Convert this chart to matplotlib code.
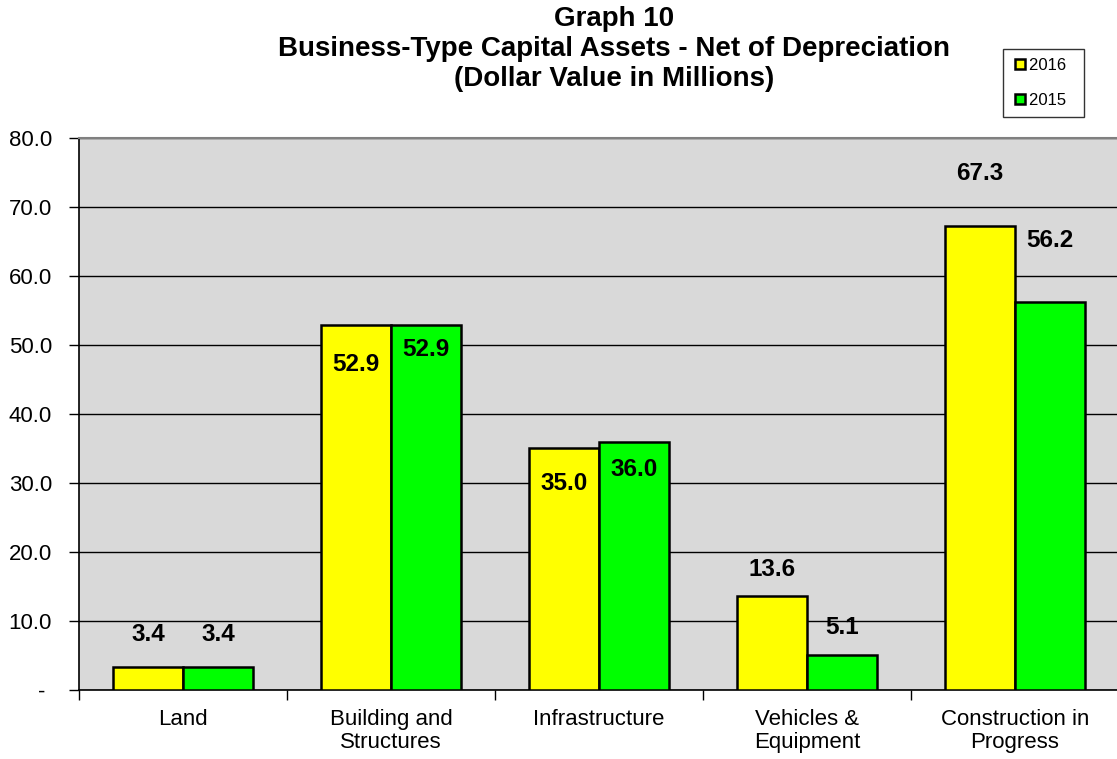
import matplotlib
matplotlib.use("Agg")
import matplotlib.pyplot as plt
import numpy as np
from matplotlib.lines import Line2D

plt.rcParams['font.family'] = ['Liberation Sans', 'DejaVu Sans']

categories = ["Land", "Building and\nStructures", "Infrastructure",
              "Vehicles &\nEquipment", "Construction in\nProgress"]
values_2016 = [3.4, 52.9, 35.0, 13.6, 67.3]
values_2015 = [3.4, 52.9, 36.0, 5.1, 56.2]
series_names = ["2016", "2015"]
y_ticks = [0, 10, 20, 30, 40, 50, 60, 70, 80]
y_tick_labels = ["- ", "10.0", "20.0", "30.0", "40.0", "50.0", "60.0", "70.0", "80.0"]

# vertical placement of each value label relative to its bar top (data units)
label_shift_2016 = [4.6, -5.7, -5.1, 3.9, 7.6]
label_shift_2015 = [4.6, -3.5, -4.1, 4.0, 8.9]

colors = ["#FFFF00", "#00FF00"]

fig = plt.figure(figsize=(11.17, 7.59), dpi=100)
ax = fig.add_axes([0.0707, 0.0909, 0.9311, 0.7273])
ax.set_facecolor("#D9D9D9")

x = np.arange(len(categories))
w = 0.336
ax.bar(x - w / 2, values_2016, w, color=colors[0], edgecolor="black", linewidth=1.8, zorder=3)
ax.bar(x + w / 2, values_2015, w, color=colors[1], edgecolor="black", linewidth=1.8, zorder=3)

for xi, v, s in zip(x - w / 2, values_2016, label_shift_2016):
    ax.text(xi, v + s, f"{v:.1f}", ha="center", va="center", fontsize=17.5,
            fontweight="bold", zorder=4)
for xi, v, s in zip(x + w / 2, values_2015, label_shift_2015):
    ax.text(xi, v + s, f"{v:.1f}", ha="center", va="center", fontsize=17.5,
            fontweight="bold", zorder=4)

ax.set_xlim(-0.5, len(categories) - 0.5)
ax.set_ylim(0, 80)
ax.set_yticks(y_ticks)
ax.set_yticklabels(y_tick_labels, fontsize=16)
ax.yaxis.grid(True, color="black", linewidth=1.0, zorder=1)
ax.set_axisbelow(True)

ax.set_xticks(x)
ax.set_xticklabels(categories, fontsize=16, linespacing=1.1)
ax.tick_params(axis="x", length=0, pad=14)
ax.set_xticks(np.arange(-0.5, len(categories), 1.0), minor=True)
ax.tick_params(axis="x", which="minor", length=7, width=1.0, direction="out")
ax.tick_params(axis="y", length=7, width=1.0, direction="out", pad=12.5)

for side in ["left", "bottom"]:
    ax.spines[side].set_color("black")
    ax.spines[side].set_linewidth(1.2)
ax.spines["top"].set_color("#808080")
ax.spines["top"].set_linewidth(1.5)
ax.spines["right"].set_color("#808080")

fig.text(0.55, 0.992, "Graph 10\nBusiness-Type Capital Assets - Net of Depreciation\n(Dollar Value in Millions)",
         ha="center", va="top", fontsize=20, fontweight="bold", linespacing=1.2)

handles = [Line2D([], [], marker="s", linestyle="none", markersize=7.5,
                  markerfacecolor=c, markeredgecolor="black", markeredgewidth=1.8)
           for c in colors]
leg = fig.legend(handles, [n + "  " for n in series_names], loc="upper left",
                 bbox_to_anchor=(0.898, 0.936),
                 fontsize=12, frameon=True, fancybox=False, edgecolor="black",
                 handlelength=0.9, handletextpad=0.1,
                 labelspacing=1.2, borderpad=0.55, borderaxespad=0.0)
leg.get_frame().set_linewidth(1.0)

fig.savefig("out.png", dpi=100)
